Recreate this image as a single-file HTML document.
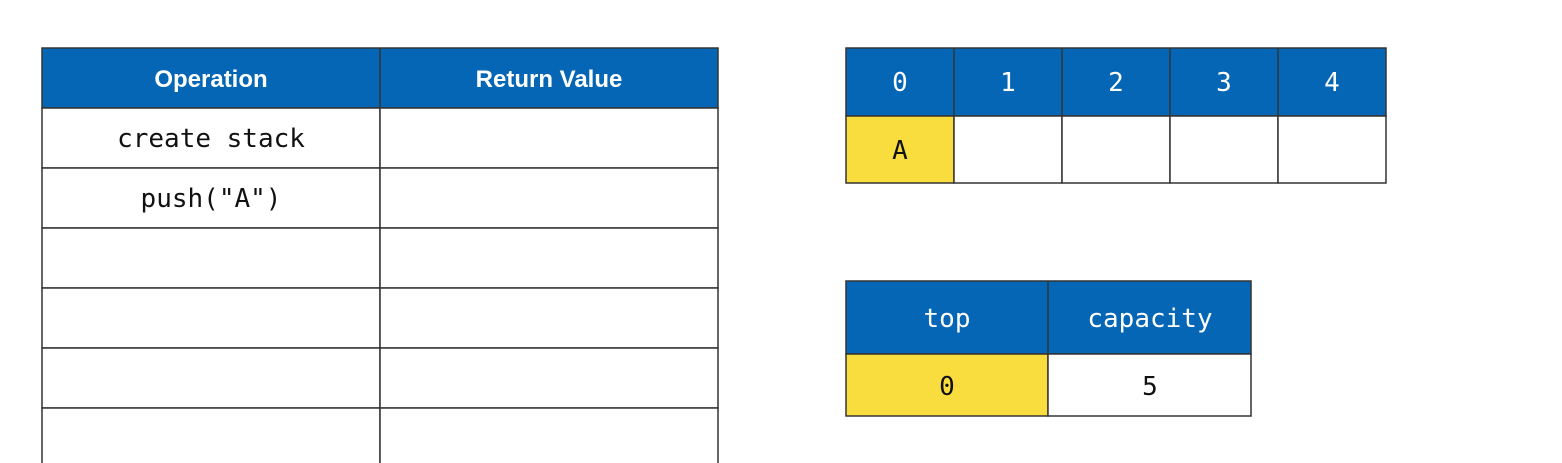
<!DOCTYPE html>
<html><head><meta charset="utf-8"><style>
html,body{margin:0;padding:0;background:#fff;}
svg{display:block;}
.h{font-family:"Liberation Sans",sans-serif;font-weight:bold;font-size:24px;fill:#fff;}
.m{font-family:"DejaVu Sans Mono","Liberation Mono",monospace;font-size:26px;fill:#111;}
.mw{font-family:"DejaVu Sans Mono","Liberation Mono",monospace;font-size:26px;fill:#fff;}
</style></head><body>
<svg width="1562" height="463" viewBox="0 0 1562 463" xmlns="http://www.w3.org/2000/svg">
<g stroke="#333" stroke-width="1.5">
<rect x="42" y="48" width="676" height="60" fill="#0466B4"/>
<rect x="42" y="108" width="338" height="60" fill="#fff"/><rect x="380" y="108" width="338" height="60" fill="#fff"/>
<rect x="42" y="168" width="338" height="60" fill="#fff"/><rect x="380" y="168" width="338" height="60" fill="#fff"/>
<rect x="42" y="228" width="338" height="60" fill="#fff"/><rect x="380" y="228" width="338" height="60" fill="#fff"/>
<rect x="42" y="288" width="338" height="60" fill="#fff"/><rect x="380" y="288" width="338" height="60" fill="#fff"/>
<rect x="42" y="348" width="338" height="60" fill="#fff"/><rect x="380" y="348" width="338" height="60" fill="#fff"/>
<rect x="42" y="408" width="338" height="70" fill="#fff"/><rect x="380" y="408" width="338" height="70" fill="#fff"/>
<line x1="380" y1="48" x2="380" y2="108"/>

<rect x="846" y="48" width="540" height="68" fill="#0466B4"/>
<line x1="954" y1="48" x2="954" y2="116"/><line x1="1062" y1="48" x2="1062" y2="116"/><line x1="1170" y1="48" x2="1170" y2="116"/><line x1="1278" y1="48" x2="1278" y2="116"/>
<rect x="846" y="116" width="108" height="67" fill="#F9DC3E"/>
<rect x="954" y="116" width="108" height="67" fill="#fff"/>
<rect x="1062" y="116" width="108" height="67" fill="#fff"/>
<rect x="1170" y="116" width="108" height="67" fill="#fff"/>
<rect x="1278" y="116" width="108" height="67" fill="#fff"/>

<rect x="846" y="281" width="405" height="73" fill="#0466B4"/>
<line x1="1048" y1="281" x2="1048" y2="354"/>
<rect x="846" y="354" width="202" height="62" fill="#F9DC3E"/>
<rect x="1048" y="354" width="203" height="62" fill="#fff"/>
</g>
<text class="h" x="211" y="87" text-anchor="middle">Operation</text>
<text class="h" x="549" y="87" text-anchor="middle">Return Value</text>
<text class="m" x="211" y="147" text-anchor="middle">create stack</text>
<text class="m" x="211" y="207" text-anchor="middle">push("A")</text>

<text class="mw" x="900" y="91" text-anchor="middle">0</text>
<text class="mw" x="1008" y="91" text-anchor="middle">1</text>
<text class="mw" x="1116" y="91" text-anchor="middle">2</text>
<text class="mw" x="1224" y="91" text-anchor="middle">3</text>
<text class="mw" x="1332" y="91" text-anchor="middle">4</text>
<text class="m" x="900" y="159" text-anchor="middle">A</text>

<text class="mw" x="947" y="327" text-anchor="middle">top</text>
<text class="mw" x="1150" y="327" text-anchor="middle">capacity</text>
<text class="m" x="947" y="395" text-anchor="middle">0</text>
<text class="m" x="1150" y="395" text-anchor="middle">5</text>
</svg>
</body></html>
